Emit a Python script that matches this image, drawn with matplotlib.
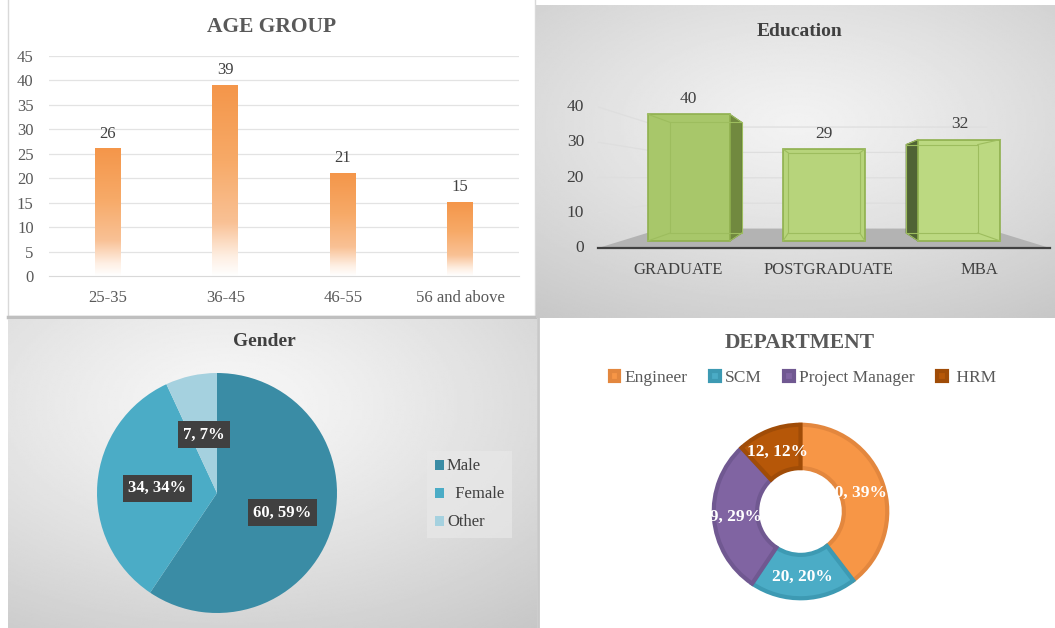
import numpy as np
import matplotlib
matplotlib.use('Agg')
import matplotlib.pyplot as plt
from matplotlib.patches import Polygon, Rectangle
from matplotlib.colors import LinearSegmentedColormap

plt.rcParams['font.family'] = ['Liberation Serif', 'DejaVu Serif']

# ---- data ----
age_groups = ['25-35', '36-45', '46-55', '56 and above']
age_counts = [26, 39, 21, 15]

edu_levels = ['GRADUATE', 'POSTGRADUATE', 'MBA']
edu_counts = [40, 29, 32]

gender_labels = ['Male', '  Female', 'Other']
gender_counts = [60, 34, 7]
gender_pct = [59, 34, 7]

dept_labels = ['Engineer', 'SCM', 'Project Manager', ' HRM']
dept_counts = [40, 20, 29, 12]
dept_pct = [39, 20, 29, 12]

W, H = 1055, 628
fig = plt.figure(figsize=(W / 100, H / 100), dpi=100)


def px_axes(x0, y0, x1, y1, **kw):
    # pixel box, origin top-left -> figure axes
    return fig.add_axes([x0 / W, 1 - y1 / H, (x1 - x0) / W, (y1 - y0) / H], **kw)


def px_pt(x, y):
    return x / W, 1 - y / H


def radial_bg(ax, cx, cy, light, dark, sx=1.0, sy=1.0):
    yy, xx = np.mgrid[0:1:240j, 0:1:240j]
    d = np.sqrt(((xx - cx) / sx) ** 2 + ((yy - cy) / sy) ** 2)
    d = np.clip(d / d.max(), 0, 1) ** 1.2
    img = light + (dark - light) * d
    ax.imshow(img, cmap='gray', vmin=0, vmax=1, extent=[0, 1, 0, 1],
              origin='lower', aspect='auto', interpolation='bilinear')
    ax.set_xlim(0, 1)
    ax.set_ylim(0, 1)
    ax.axis('off')


# ---- panel backgrounds ----
bg = px_axes(0, 0, W, H)
bg.set_xlim(0, W)
bg.set_ylim(H, 0)
bg.axis('off')
bg.add_patch(Rectangle((8, -2), 527, 318, facecolor='white', edgecolor='#D9D9D9', lw=1))
bg.plot([8, 535], [317, 317], color='#BFBFBF', lw=2.5)

edu_bg = px_axes(536, 5, W, 318)
radial_bg(edu_bg, 0.5, 0.62, 0.95, 0.78, sx=1.0, sy=0.9)

gen_bg = px_axes(8, 319, 537, H)
radial_bg(gen_bg, 0.42, 0.72, 0.97, 0.78, sx=1.0, sy=1.0)

bg2 = px_axes(537, 318, W, H)
bg2.set_xlim(0, 1)
bg2.set_ylim(0, 1)
bg2.axis('off')
bg2.add_patch(Rectangle((0, 0), 1, 1, facecolor='white', edgecolor='none'))
bg2.plot([0.002, 0.002], [0, 1], color='#C8C8C8', lw=2)

# ---- AGE GROUP ----
ax = px_axes(49, 56, 519, 276)
ax.patch.set_alpha(0)
orange = LinearSegmentedColormap.from_list(
    'age', [(0, '#FFFFFF'), (0.1, '#FEEFE3'), (0.28, '#F9C195'),
            (0.6, '#F7AA68'), (1, '#F4964A')])
grad = np.linspace(0, 1, 256).reshape(-1, 1)
for g in range(5, 50, 5):
    ax.axhline(g, color='#E3E3E3', lw=0.9, zorder=1)
for i, v in enumerate(age_counts):
    ax.imshow(grad, cmap=orange, extent=(i - 0.11, i + 0.11, 0, v),
              origin='lower', aspect='auto', zorder=2)
    ax.annotate(str(v), (i, v), xytext=(0, 11), textcoords='offset points',
                ha='center', va='center', fontsize=12, color='#404040')
ax.set_xlim(-0.5, 3.5)
ax.set_ylim(0, 45)
ax.set_yticks(range(0, 50, 5))
ax.set_xticks(range(len(age_groups)))
ax.set_xticklabels(age_groups)
ax.tick_params(length=0, labelsize=12, labelcolor='#595959')
ax.tick_params(axis='y', pad=11)
ax.tick_params(axis='x', pad=10)
for s in ['top', 'right', 'left']:
    ax.spines[s].set_visible(False)
ax.spines['bottom'].set_color('#D9D9D9')
fig.text(*px_pt(272, 27), 'AGE GROUP', ha='center', va='center',
         fontsize=15.5, fontweight='bold', color='#595959')

# ---- Education (pseudo 3-D columns) ----
ex0, ex1, ey0, ey1 = 536, W, 5, 318
cx, cw = 824, 150.5      # px of middle category, px per category
y0px, yk = 248, 3.525    # px of value 0, px per unit
ea = px_axes(ex0, ey0, ex1, ey1)
ea.patch.set_alpha(0)
ea.axis('off')
ea.set_xlim(1 + (ex0 - cx) / cw, 1 + (ex1 - cx) / cw)
ea.set_ylim((y0px - ey1) / yk, (y0px - ey0) / yk)
vp = (1.0, (y0px - 178.6) / yk)


def proj(x, y, s):
    return vp[0] + (x - vp[0]) * s, vp[1] + (y - vp[1]) * s


n = len(edu_levels)
wall = 0.72
floor = [proj(-0.5, 0, 1), proj(n - 0.5, 0, 1), proj(n - 0.5, 0, wall), proj(-0.5, 0, wall)]
ea.add_patch(Polygon(floor, closed=True, facecolor='#B3B3B3', edgecolor='none', zorder=1))
for g in range(10, 50, 10):
    p0, p1, p2 = proj(-0.5, g, 1), proj(-0.5, g, wall), proj(n - 0.5, g, wall)
    ea.plot([p0[0], p1[0], p2[0]], [p0[1], p1[1], p2[1]], color='#DEDEDE', lw=0.9, zorder=1)
ea.plot([floor[0][0], floor[1][0]], [0, 0], color='#404040', lw=1.6, zorder=2)
for g in range(0, 50, 10):
    ea.text(1 + (584 - cx) / cw, g, str(g), ha='right', va='center',
            fontsize=12.5, color='#404040')

hw, sf, sb = 0.303, 0.9, 0.784
faces = ['#A8C76A', '#B7D47B', '#BCD981']
for i, v in enumerate(edu_counts):
    corners = [(i - hw, 0), (i + hw, 0), (i + hw, v), (i - hw, v)]
    F = [proj(x, y, sf) for x, y in corners]
    B = [proj(x, y, sb) for x, y in corners]
    if i < vp[0]:
        side = [F[1], B[1], B[2], F[2]]
        ea.add_patch(Polygon(side, closed=True, facecolor='#71893F', edgecolor='#5F7A33', lw=0.8, zorder=3))
    elif i > vp[0]:
        side = [F[0], B[0], B[3], F[3]]
        ea.add_patch(Polygon(side, closed=True, facecolor='#506335', edgecolor='#45582A', lw=0.8, zorder=3))
    ea.add_patch(Polygon(F, closed=True, facecolor=faces[i], edgecolor='#8FB04E', lw=1.2, zorder=4))
    ea.add_patch(Polygon(B, closed=True, facecolor='none', edgecolor='#9DBD5E', lw=0.8, zorder=5))
    for a, b in zip(F, B):
        ea.plot([a[0], b[0]], [a[1], b[1]], color='#9DBD5E', lw=0.8, zorder=5)
    top = proj(i, v, sf)
    ea.annotate(str(v), top, xytext=(0, 11), textcoords='offset points',
                ha='center', va='center', fontsize=12.5, color='#404040')
    ea.text(i + 0.03, (y0px - 270) / yk, edu_levels[i], ha='center', va='center',
            fontsize=12, color='#404040')
fig.text(*px_pt(800, 31), 'Education', ha='center', va='center',
         fontsize=14, fontweight='bold', color='#404040')

# ---- Gender pie ----
pa = px_axes(97, 373, 337, 613)
gcols = ['#3A8CA5', '#4BACC6', '#A5D1DF']
wedges, _ = pa.pie(gender_counts, colors=gcols, startangle=90, counterclock=False,
                   radius=1, wedgeprops=dict(edgecolor='none'))
pa.set_xlim(-1, 1)
pa.set_ylim(-1, 1)
for w, c, p, r in zip(wedges, gender_counts, gender_pct, [0.57, 0.5, 0.5]):
    ang = np.deg2rad((w.theta1 + w.theta2) / 2)
    pa.text(r * np.cos(ang), r * np.sin(ang), f'{c}, {p}%', ha='center', va='center',
            fontsize=12, fontweight='bold', color='white',
            bbox=dict(boxstyle='square,pad=0.33', facecolor='#404040', edgecolor='none'))
fig.legend(wedges, gender_labels, loc='upper left', bbox_to_anchor=px_pt(427, 451),
           fontsize=12, frameon=True, facecolor='#E8E8E8', edgecolor='none', framealpha=0.7,
           fancybox=False, handlelength=0.55, handleheight=0.55, handletextpad=0.2,
           labelspacing=0.72, borderpad=0.45, borderaxespad=0, labelcolor='#404040')
fig.text(*px_pt(264, 341), 'Gender', ha='center', va='center',
         fontsize=14, fontweight='bold', color='#404040')

# ---- DEPARTMENT donut ----
da = px_axes(712, 423, 889, 600)
dcols = ['#F79646', '#4BACC6', '#8064A2', '#B65708']
dedge = ['#E3873E', '#3D9AB3', '#705891', '#A04C07']
dw, _ = da.pie(dept_counts, colors=dcols, startangle=90, counterclock=False,
               radius=1, wedgeprops=dict(width=0.5, linewidth=3))
for w, e in zip(dw, dedge):
    w.set_edgecolor(e)
da.set_xlim(-1.02, 1.02)
da.set_ylim(-1.02, 1.02)
for w, c, p, r in zip(dw, dept_counts, dept_pct, [0.68, 0.75, 0.8, 0.74]):
    ang = np.deg2rad((w.theta1 + w.theta2) / 2)
    da.text(r * np.cos(ang), r * np.sin(ang), f'{c}, {p}%', ha='center', va='center',
            fontsize=12.5, fontweight='bold', color='white', zorder=5)
fig.legend(dw, dept_labels, loc='center', bbox_to_anchor=px_pt(803, 378), ncol=4,
           fontsize=12.5, frameon=False, handlelength=0.55, handleheight=0.55,
           handletextpad=0.3, columnspacing=1.3, labelcolor='#595959')
fig.text(*px_pt(800, 343), 'DEPARTMENT', ha='center', va='center',
         fontsize=15.5, fontweight='bold', color='#595959')

fig.savefig('out.png', dpi=100)
